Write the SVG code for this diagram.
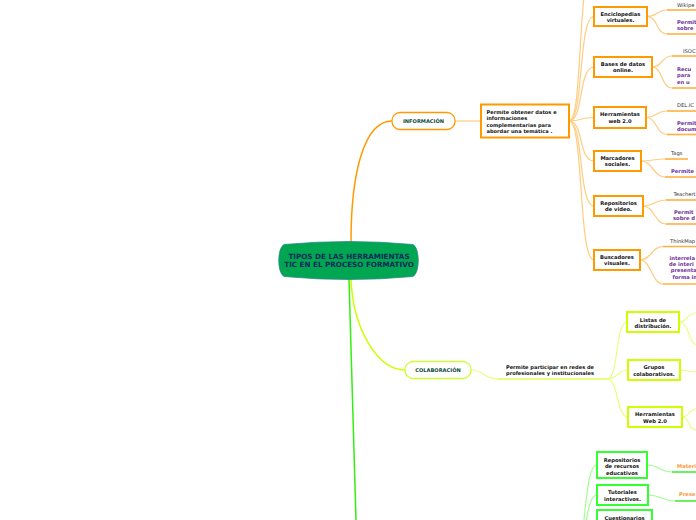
<svg xmlns="http://www.w3.org/2000/svg" width="696" height="520" viewBox="0 0 696 520">
<style>
text{font-family:"DejaVu Sans","Liberation Sans",sans-serif;}
.b{font-weight:bold;}
.nt{font-size:5.2px;font-weight:bold;fill:#111;text-anchor:middle;}
.lbl{font-size:5.2px;fill:#333;}
.pur{font-size:5.2px;font-weight:bold;fill:#7030A0;}
.org{font-size:5.2px;font-weight:bold;fill:#FF9933;}
.ob{fill:#fff;stroke:#FF9900;stroke-width:2;}
.yb{fill:#fff;stroke:#CCFF00;stroke-width:2;}
.gb{fill:#fff;stroke:#33FF33;stroke-width:2;}
.oc{fill:none;stroke:#FFCC80;stroke-width:1.2;}
.ou{fill:none;stroke:#FFB040;stroke-width:1.6;}
.yc{fill:none;stroke:#E6FF80;stroke-width:1.2;}
.gc{fill:none;stroke:#A0FF90;stroke-width:1.2;}
.gu{fill:none;stroke:#44EE33;stroke-width:1.6;}
</style>
<rect width="696" height="520" fill="#fff"/>
<g id="connectors">
  <path d="M351,242 C351,170 365,121 392,121" fill="none" stroke="#FF9900" stroke-width="1.5"/>
  <path d="M351,279 C353,330 378,370 405,370" fill="none" stroke="#CCFF00" stroke-width="1.5"/>
  <path d="M349,279 C351,360 354,440 356,520" fill="none" stroke="#33EE11" stroke-width="1.5"/>
  <path d="M455,121 L481,121" class="oc"/>
  <path d="M569,121 C584,121 576,-40 596,-40" class="oc"/>
  <path d="M569,121 C584,121 578,16.5 594,16.5" class="oc"/>
  <path d="M569,121 C584,121 578,67 594,67" class="oc"/>
  <path d="M569,121 C584,121 578,117.5 594,117.5" class="oc"/>
  <path d="M569,121 C584,121 578,161 594,161" class="oc"/>
  <path d="M569,121 C584,121 578,206 594,206" class="oc"/>
  <path d="M569,121 C584,121 578,260 594,260" class="oc"/>
  <path d="M647,16.5 C658,16.5 656,10 667,10" class="oc"/><path d="M667,10 L696,10" class="ou"/>
  <path d="M647,16.5 C658,16.5 656,34 667,34" class="oc"/><path d="M667,34 L696,34" class="ou"/>
  <path d="M652,67 C663,67 661,56 672,56" class="oc"/><path d="M672,56 L696,56" class="ou"/>
  <path d="M652,67 C663,67 661,88 672,88" class="oc"/><path d="M672,88 L696,88" class="ou"/>
  <path d="M646,117.5 C657,117.5 656,111 667,111" class="oc"/><path d="M667,111 L696,111" class="ou"/>
  <path d="M646,117.5 C657,117.5 656,134.5 667,134.5" class="oc"/><path d="M667,134.5 L696,134.5" class="ou"/>
  <path d="M641,161 C652,161 654,159 665,159" class="oc"/><path d="M665,159 L688,159" class="ou"/>
  <path d="M641,161 C652,161 654,177 665,177" class="oc"/><path d="M665,177 L696,177" class="ou"/>
  <path d="M643,206 C654,206 655,200 666,200" class="oc"/><path d="M666,200 L696,200" class="ou"/>
  <path d="M643,206 C654,206 655,224 666,224" class="oc"/><path d="M666,224 L696,224" class="ou"/>
  <path d="M640,260 C651,260 652,246.5 663,246.5" class="oc"/><path d="M663,246.5 L696,246.5" class="ou"/>
  <path d="M640,260 C651,260 652,284 663,284" class="oc"/><path d="M663,284 L696,284" class="ou"/>
  <path d="M471,370 C484,370 484,379 497,379" class="yc"/>
  <path d="M497,379 L607,379" fill="none" stroke="#DDFF55" stroke-width="1.4"/>
  <path d="M607,379 C619,379 615,322 627,322" class="yc"/>
  <path d="M607,379 C619,379 616,370 628,370" class="yc"/>
  <path d="M607,379 C619,379 616,417 628,417" class="yc"/>
  <path d="M679,322 C688,322 686,313 696,313" class="yc"/>
  <path d="M679,322 C690,322 688,345 698,345" class="yc"/>
  <path d="M680,370 C688,370 688,372 696,372" class="yc"/>
  <path d="M682,417 C690,417 688,409 696,409" class="yc"/>
  <path d="M682,417 C690,417 688,430 696,430" class="yc"/>
  <path d="M560,600 C588,600 580,465 597,465" class="gc"/>
  <path d="M560,600 C588,600 580,495 597,495" class="gc"/>
  <path d="M560,600 C588,600 580,520 597,520" class="gc"/>
  <path d="M647,465 C660,465 659,472 672,472" class="gc"/><path d="M672,472 L696,472" class="gu"/>
  <path d="M648,495 C661,495 662,501 675,501" class="gc"/><path d="M675,501 L696,501" class="gu"/>
</g>
<g id="central">
  <path d="M284,244.5 Q349,238.5 413,244.5 C420,248 420,273 413,276.5 Q349,282.5 284,276.5 C277,273 277,248 284,244.5 Z" fill="#00A651" stroke="#2A8A8A" stroke-width="0.8"/>
  <text x="349" y="258.5" font-size="7.2" class="b" fill="#0B2A5A" text-anchor="middle">TIPOS DE LAS HERRAMIENTAS</text>
  <text x="349" y="267" font-size="7.2" class="b" fill="#0B2A5A" text-anchor="middle">TIC EN EL PROCESO FORMATIVO</text>
</g>
<g id="informacion">
  <rect x="392" y="112.5" width="63" height="17" rx="8" fill="#fff" stroke="#FF9900" stroke-width="1.3"/>
  <text x="423.5" y="123" font-size="5.1" class="b" fill="#0B4A3A" text-anchor="middle">INFORMACIÓN</text>
</g>
<g id="info-desc">
  <rect x="481" y="104.5" width="88" height="33" class="ob"/>
  <text x="486.5" y="114" font-size="5.1" class="b" fill="#111">Permite obtener datos e</text>
  <text x="486.5" y="120.3" font-size="5.1" class="b" fill="#111">informaciones</text>
  <text x="486.5" y="126.8" font-size="5.1" class="b" fill="#111">complementarias para</text>
  <text x="486.5" y="133.2" font-size="5.1" class="b" fill="#111">abordar una temática .</text>
</g>
<g id="enciclopedias">
  <rect x="594" y="7" width="53" height="19" class="ob"/>
  <text x="620.5" y="15.6" class="nt">Enciclopedias</text>
  <text x="620.5" y="22" class="nt">virtuales.</text>
</g>
<g id="enc-l1"><text x="677" y="6.5" class="lbl">Wikipe</text></g>
<g id="enc-l2"><text x="677" y="23.8" class="pur">Permit</text><text x="677" y="30" class="pur">sobre</text></g>
<g id="bases">
  <rect x="594" y="57" width="58" height="20" class="ob"/>
  <text x="623" y="65.8" class="nt">Bases de datos</text>
  <text x="623" y="72.3" class="nt">online.</text>
</g>
<g id="bases-l1"><text x="683" y="52.5" class="lbl">ISOC</text></g>
<g id="bases-l2"><text x="677" y="71" class="pur">Recu</text><text x="677" y="77.3" class="pur">para</text><text x="677" y="83.6" class="pur">en u</text></g>
<g id="herramientas">
  <rect x="594" y="107" width="52" height="21" class="ob"/>
  <text x="620" y="116" class="nt">Herramientas</text>
  <text x="620" y="122.6" class="nt">web 2.0</text>
</g>
<g id="herr-l1"><text x="677" y="107" class="lbl">DEL.IC</text></g>
<g id="herr-l2"><text x="677" y="125" class="pur">Permit</text><text x="677" y="131.2" class="pur">docum</text></g>
<g id="marcadores">
  <rect x="594" y="151" width="47" height="20" class="ob"/>
  <text x="617.5" y="159.8" class="nt">Marcadores</text>
  <text x="617.5" y="166.3" class="nt">sociales.</text>
</g>
<g id="marc-l1"><text x="671" y="154.5" class="lbl">Tags</text></g>
<g id="marc-l2"><text x="671" y="172.5" class="pur">Permite</text></g>
<g id="repositorios-video">
  <rect x="594" y="196" width="49" height="20" class="ob"/>
  <text x="618.5" y="204.8" class="nt">Repositorios</text>
  <text x="618.5" y="211.3" class="nt">de video.</text>
</g>
<g id="rep-l1"><text x="673.5" y="196" class="lbl">Teachert</text></g>
<g id="rep-l2"><text x="674" y="214" class="pur">Permit</text><text x="673" y="220.2" class="pur">sobre d</text></g>
<g id="buscadores">
  <rect x="594" y="250" width="46" height="20" class="ob"/>
  <text x="617" y="258.8" class="nt">Buscadores</text>
  <text x="617" y="265.3" class="nt">visuales.</text>
</g>
<g id="bus-l1"><text x="670" y="242.5" class="lbl">ThinkMap</text></g>
<g id="bus-l2"><text x="669.5" y="260" class="pur">interrela</text><text x="669" y="266.2" class="pur">de interi</text><text x="670.7" y="272.4" class="pur">presenta</text><text x="672.5" y="278.6" class="pur">forma in</text></g>
<g id="colaboracion">
  <rect x="405" y="361.5" width="66" height="17" rx="8" fill="#fff" stroke="#CCFF33" stroke-width="1.3"/>
  <text x="438" y="372" font-size="5.1" class="b" fill="#0B4A3A" text-anchor="middle">COLABORACIÓN</text>
</g>
<g id="colab-desc">
  <text x="550" y="368.5" font-size="5.1" class="b" fill="#111" text-anchor="middle">Permite participar en redes de</text>
  <text x="550" y="375" font-size="5.1" class="b" fill="#111" text-anchor="middle">profesionales y institucionales</text>
</g>
<g id="listas">
  <rect x="627" y="312" width="52" height="20" class="yb"/>
  <text x="653" y="321.5" class="nt">Listas de</text>
  <text x="653" y="327.8" class="nt">distribución.</text>
</g>
<g id="grupos">
  <rect x="628" y="360" width="52" height="20" class="yb"/>
  <text x="654" y="369.3" class="nt">Grupos</text>
  <text x="654" y="375.8" class="nt">colaborativos.</text>
</g>
<g id="herramientas-web">
  <rect x="628" y="407" width="54" height="20" class="yb"/>
  <text x="655" y="416" class="nt">Herramientas</text>
  <text x="655" y="422.5" class="nt">Web 2.0</text>
</g>
<g id="repositorios-recursos">
  <rect x="597" y="452" width="50" height="26" class="gb"/>
  <text x="622" y="461.8" class="nt">Repositorios</text>
  <text x="622" y="468.3" class="nt">de recursos</text>
  <text x="622" y="474.8" class="nt">educativos</text>
</g>
<g id="rec-l1"><text x="677" y="467.5" class="org">Materi</text></g>
<g id="tutoriales">
  <rect x="597" y="485" width="51" height="20" class="gb"/>
  <text x="622.5" y="493.6" class="nt">Tutoriales</text>
  <text x="622.5" y="500.6" class="nt">interactivos.</text>
</g>
<g id="tut-l1"><text x="679" y="496" class="org">Prese</text></g>
<g id="cuestionarios">
  <rect x="597" y="510" width="55" height="20" class="gb"/>
  <text x="624.5" y="519.8" class="nt">Cuestionarios</text>
</g>
</svg>
